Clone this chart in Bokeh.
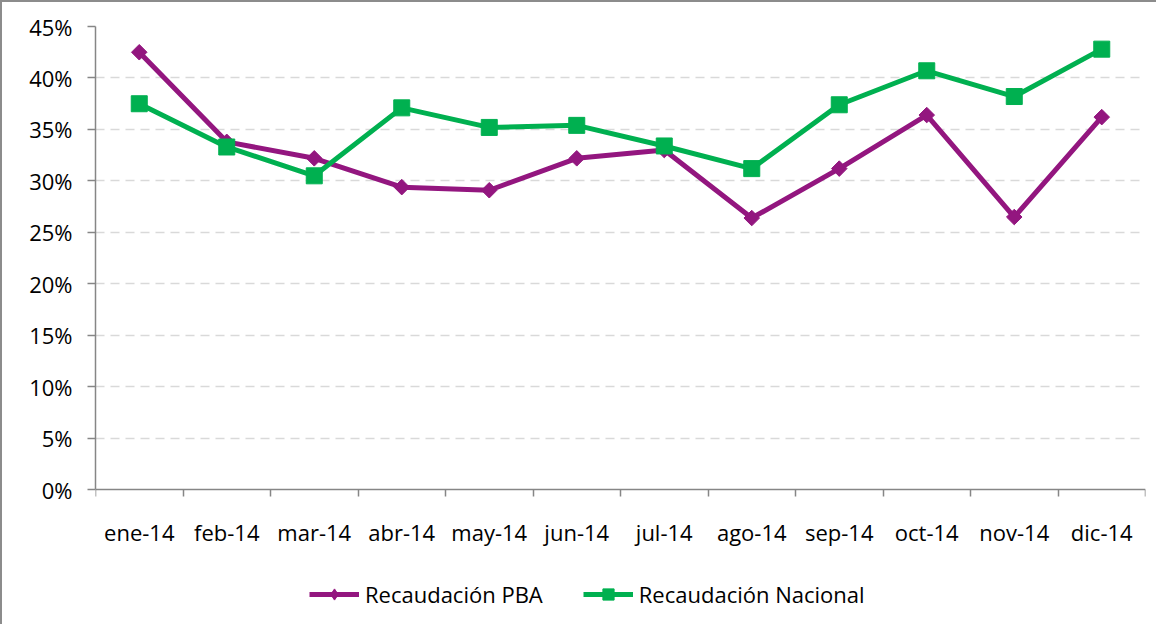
import numpy as np
from bokeh.plotting import figure
from bokeh.models import (Range1d, FixedTicker, CustomJSTickFormatter, PrintfTickFormatter,
                          Legend, LegendItem, ColumnDataSource)
from bokeh.embed import file_html
from bokeh.resources import INLINE

months = ["ene-14", "feb-14", "mar-14", "abr-14", "may-14", "jun-14",
          "jul-14", "ago-14", "sep-14", "oct-14", "nov-14", "dic-14"]
pba = [42.5, 33.8, 32.2, 29.4, 29.1, 32.2, 33.0, 26.4, 31.2, 36.4, 26.5, 36.2]
nacional = [37.5, 33.3, 30.5, 37.1, 35.2, 35.4, 33.4, 31.2, 37.4, 40.7, 38.2, 42.8]
y_ticks = [0, 5, 10, 15, 20, 25, 30, 35, 40, 45]

PURPLE = "#93167F"
GREEN = "#00B050"
AXIS = "#868686"
FONT = "Open Sans"

xs = [i + 0.5 for i in range(len(months))]
src = ColumnDataSource(dict(x=xs, pba=pba, nac=nacional))

# the frame reaches below 0% to hold the legend; axes are bounded to the data area
p = figure(width=1156, height=624, output_backend="svg", toolbar_location=None,
           x_range=Range1d(0, len(months)), y_range=Range1d(-12, 45),
           min_border_left=93, min_border_right=13, min_border_top=24, min_border_bottom=13,
           styles={"border-top": "2px solid #8C8C8C", "border-left": "2px solid #8C8C8C"})
p.outline_line_color = None
p.background_fill_color = "white"
p.border_fill_color = "white"

# y axis
p.yaxis.bounds = (0, 45)
p.yaxis.ticker = FixedTicker(ticks=y_ticks)
p.yaxis.formatter = PrintfTickFormatter(format="%d%%")
p.yaxis.axis_line_color = AXIS
p.yaxis.axis_line_width = 1.5
p.yaxis.major_tick_line_color = AXIS
p.yaxis.major_tick_line_width = 1.5
p.yaxis.major_tick_out = 8
p.yaxis.major_tick_in = 0
p.yaxis.minor_tick_line_color = None
p.yaxis.major_label_text_font = FONT
p.yaxis.major_label_text_font_size = "22px"
p.yaxis.major_label_text_color = "#000000"
p.yaxis.major_label_standoff = 15

# x axis, sitting on 0%
p.xaxis.fixed_location = 0
p.xaxis.ticker = FixedTicker(ticks=xs, minor_ticks=list(range(len(months) + 1)))
p.xaxis.formatter = CustomJSTickFormatter(args=dict(labels=months),
                                          code="return labels[Math.floor(tick)];")
p.xaxis.axis_line_color = AXIS
p.xaxis.axis_line_width = 1.5
p.xaxis.major_tick_line_color = None
p.xaxis.major_tick_out = 0
p.xaxis.major_tick_in = 0
p.xaxis.minor_tick_line_color = AXIS
p.xaxis.minor_tick_line_width = 1.5
p.xaxis.minor_tick_out = 7
p.xaxis.minor_tick_in = 0
p.xaxis.major_label_text_font = FONT
p.xaxis.major_label_text_font_size = "22px"
p.xaxis.major_label_text_color = "#000000"
p.xaxis.major_label_standoff = 20

# grid
p.xgrid.grid_line_color = None
p.ygrid.ticker = FixedTicker(ticks=y_ticks[1:])
p.ygrid.grid_line_color = "#D9D9D9"
p.ygrid.grid_line_width = 1.5
p.ygrid.grid_line_dash = "9 6"

l1 = p.line("x", "pba", source=src, line_color=PURPLE, line_width=5)
m1 = p.scatter("x", "pba", source=src, marker="square", angle=np.pi / 4, size=11,
               fill_color=PURPLE, line_color=PURPLE)
l2 = p.line("x", "nac", source=src, line_color=GREEN, line_width=5)
m2 = p.scatter("x", "nac", source=src, marker="square", size=16,
               fill_color=GREEN, line_color=GREEN)

# legend-only diamond key (the legend does not rotate markers); its point is NaN so it
# never shows in the plot area
key_src = ColumnDataSource(dict(x=[np.nan], y=[np.nan]))
k1 = p.scatter("x", "y", source=key_src, marker="diamond", size=16,
               fill_color=PURPLE, line_color=PURPLE)

legend = Legend(items=[LegendItem(label="Recaudación PBA", renderers=[l1, k1]),
                       LegendItem(label="Recaudación Nacional", renderers=[l2, m2])],
                orientation="horizontal", location=(214, 4),
                glyph_width=50, glyph_height=28, label_standoff=6, spacing=40,
                padding=0, margin=0, border_line_color=None, background_fill_alpha=0,
                label_text_font=FONT, label_text_font_size="22px", label_text_color="#000000")
p.add_layout(legend, "center")

open("out.html", "w").write(file_html(p, INLINE))
